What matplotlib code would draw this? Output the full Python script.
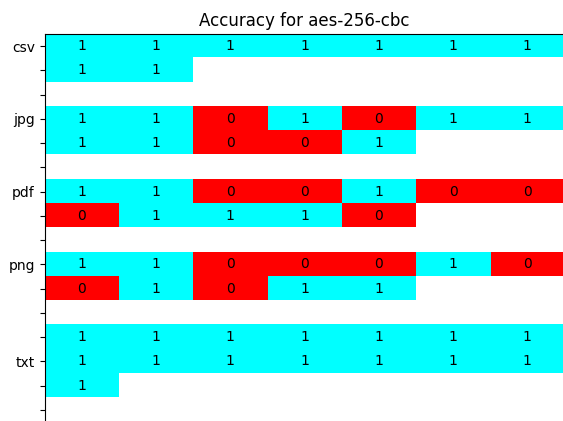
import numpy as np
import matplotlib
matplotlib.use("Agg")
import matplotlib.pyplot as plt
from matplotlib.colors import ListedColormap

file_types = ["csv", "jpg", "pdf", "png", "txt"]
csv_rows = [[1, 1, 1, 1, 1, 1, 1], [1, 1]]
jpg_rows = [[1, 1, 0, 1, 0, 1, 1], [1, 1, 0, 0, 1]]
pdf_rows = [[1, 1, 0, 0, 1, 0, 0], [0, 1, 1, 1, 0]]
png_rows = [[1, 1, 0, 0, 0, 1, 0], [0, 1, 0, 1, 1]]
txt_rows = [[1, 1, 1, 1, 1, 1, 1], [1, 1, 1, 1, 1, 1, 1], [1]]
groups = [csv_rows, jpg_rows, pdf_rows, png_rows, txt_rows]
n_cols = 7

rows = []
tick_labels = []
for name, g in zip(file_types, groups):
    start = len(rows)
    for r in g:
        rows.append(r + [np.nan] * (n_cols - len(r)))
    mid = start + (len(g) - 1) // 2
    for i in range(start, len(rows)):
        tick_labels.append(name if i == mid else "")
    rows.append([np.nan] * n_cols)
    tick_labels.append("")
rows.append([np.nan] * n_cols)
tick_labels.append("")
mat = np.array(rows, dtype=float)

W, H = 563, 421
fig = plt.figure(figsize=(W / 100, H / 100), dpi=100)
row_h = 24.25
nrows = mat.shape[0]
left, right, top = 44.5, 564.5, 34
bottom = top + nrows * row_h
ax = fig.add_axes([left / W, (H - bottom) / H, (right - left) / W, (bottom - top) / H])

cmap = ListedColormap(["red", "cyan"])
ax.imshow(mat, cmap=cmap, vmin=0, vmax=1, aspect="auto", interpolation="nearest")
for i in range(nrows):
    for j in range(n_cols):
        v = mat[i, j]
        if not np.isnan(v):
            ax.text(j, i, str(int(v)), ha="center", va="center", color="black", fontsize=10)

ax.set_yticks(range(nrows))
ax.set_yticklabels(tick_labels)
ax.set_xticks([])
ax.set_title("Accuracy for aes-256-cbc", fontsize=12)
fig.savefig("out.png", dpi=100)
